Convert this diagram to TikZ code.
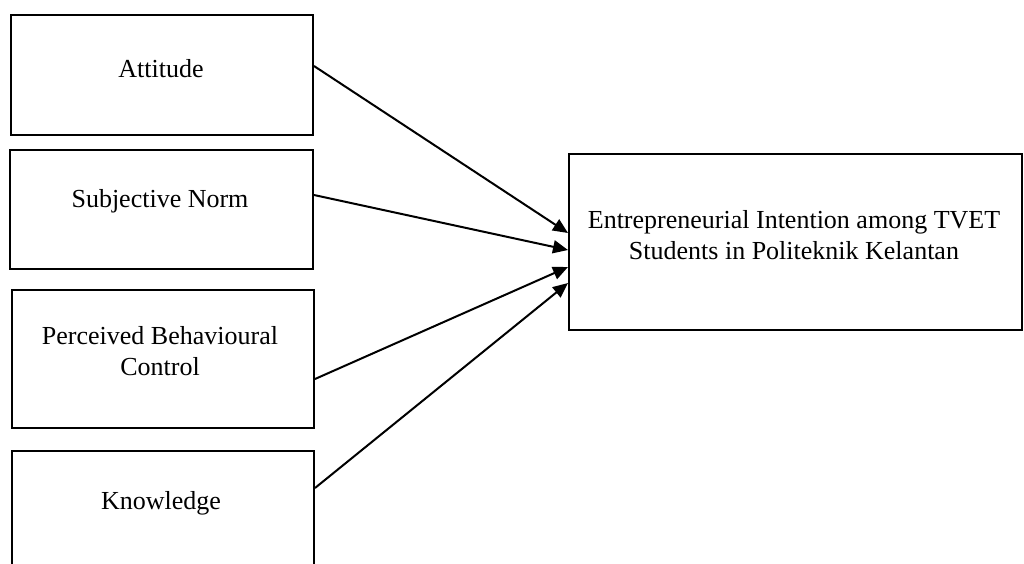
\documentclass[tikz,border=0pt]{standalone}
\usepackage{fontspec}
\setmainfont{Liberation Serif}
\usetikzlibrary{arrows.meta}
\begin{document}
\begin{tikzpicture}[x=0.5pt,y=-0.5pt,
  box/.style={draw=black,line width=1pt,rectangle,inner sep=0pt,anchor=center},
  lbl/.style={inner sep=0pt,anchor=center,align=center,font=\fontsize{13pt}{15.5pt}\selectfont},
  conn/.style={line width=1pt,-{Triangle[length=7.5pt,width=6.5pt]}}]
\useasboundingbox (0,0) rectangle (1024,563);
\fill[white] (0,0) rectangle (1024,563);
% boxes
\node[box,minimum width=151pt,minimum height=60pt] (att) at (162,75) {};
\node[box,minimum width=151.5pt,minimum height=59.5pt] (sn) at (161.5,209.5) {};
\node[box,minimum width=151pt,minimum height=69pt] (pbc) at (163,359) {};
\node[box,minimum width=151pt,minimum height=90pt] (kn) at (163,541) {};
\node[box,minimum width=226.5pt,minimum height=88pt] (ei) at (795.5,242) {};
% texts
\node[lbl] (attT) at (161,69) {Attitude};
\node[lbl] (snT) at (160,201) {Subjective Norm};
\node[lbl] (pbcT) at (160,351) {Perceived Behavioural\\Control};
\node[lbl] (knT) at (161,503) {Knowledge};
\node[lbl] (eiT) at (794,235) {Entrepreneurial Intention among TVET\\Students in Politeknik Kelantan};
% connectors
\draw[conn] ([yshift=4.5pt]att.east) -- ([yshift=4.5pt]ei.west);
\draw[conn] ([yshift=7.25pt]sn.east) -- ([yshift=-4pt]ei.west);
\draw[conn] ([yshift=-10pt]pbc.east) -- ([yshift=-12.5pt]ei.west);
\draw[conn] ([yshift=26.5pt]kn.east) -- ([yshift=-20.5pt]ei.west);
\end{tikzpicture}
\end{document}
